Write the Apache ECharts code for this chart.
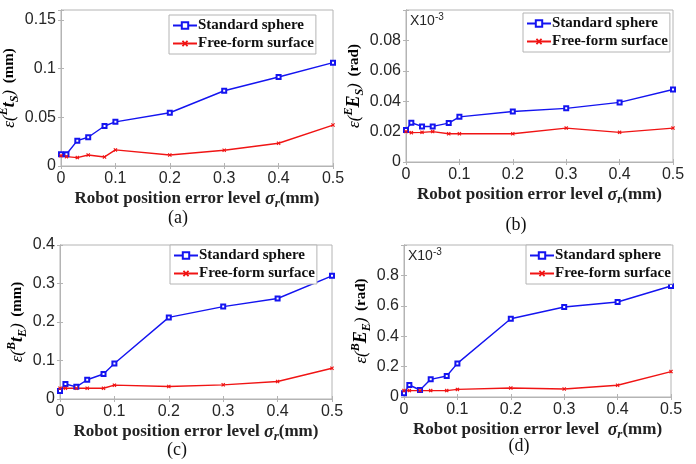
<!DOCTYPE html>
<html><head><meta charset="utf-8">
<script src="https://cdn.jsdelivr.net/npm/echarts@6/dist/echarts.min.js"></script>
<style>html,body{margin:0;padding:0;background:#fff}#c{width:696px;height:464px}</style>
</head><body><div id="c"></div>
<script>
// ---- data ----
const xValues = [0, 0.01, 0.03, 0.05, 0.08, 0.1, 0.2, 0.3, 0.4, 0.5];
const seriesNames = ['Standard sphere', 'Free-form surface'];
const panelLetters = ['(a)', '(b)', '(c)', '(d)'];
const aSphere = [0.012, 0.012, 0.026, 0.0295, 0.041, 0.0453, 0.0546, 0.0772, 0.0913, 0.106];
const aFree   = [0.0106, 0.0096, 0.0086, 0.0113, 0.0093, 0.0165, 0.0113, 0.0161, 0.0233, 0.042];
const bSphere = [0.021, 0.0258, 0.0234, 0.0234, 0.0256, 0.0297, 0.0332, 0.0353, 0.0392, 0.0477];
const bFree   = [0.020, 0.0193, 0.0195, 0.0200, 0.0186, 0.0186, 0.0186, 0.0223, 0.0195, 0.0223];
const cSphere = [0.021, 0.039, 0.0315, 0.050, 0.065, 0.092, 0.212, 0.240, 0.261, 0.320];
const cFree   = [0.028, 0.028, 0.028, 0.028, 0.028, 0.036, 0.0324, 0.0368, 0.0455, 0.080];
const dSphere = [0.024, 0.079, 0.046, 0.116, 0.138, 0.221, 0.515, 0.592, 0.625, 0.730];
const dFree   = [0.042, 0.042, 0.042, 0.042, 0.042, 0.050, 0.059, 0.053, 0.077, 0.167];
// y-axis ranges: [min, max, interval, last labelled tick]
const yRanges = [[0, 0.16, 0.05, 0.15], [0, 0.1, 0.02, 0.08], [0, 0.4, 0.1, 0.4], [0, 1.0, 0.2, 0.8]];
const yNames = [
  '{e|ε(}{sup|E}{t|t}{sub|S}{e|)}  {u|(mm)}',
  '{e|ε(}{sup|E}{t|E}{sub|S}{e|)}  {u|(rad)}',
  '{e|ε(}{sup|B}{t|t}{sub|E}{e|)}  {u|(mm)}',
  '{e|ε(}{sup|B}{t|E}{sub|E}{e|)}  {u|(rad)}'
];
const xName = '{b|Robot position error level }{s|σ}{r|r}{b|(mm)}';
const xNameD = '{b|Robot position error level  }{s|σ}{r|r}{b|(mm)}';
const exponentLabel = '{m|X10}{p|-3}';

const panels = [[aSphere, aFree], [bSphere, bFree], [cSphere, cFree], [dSphere, dFree]];

// ---- layout ----
const grids = [
  {left: 61, top: 10, width: 272, height: 156},
  {left: 406, top: 10, width: 267, height: 152},
  {left: 60, top: 245, width: 272, height: 154},
  {left: 404, top: 245, width: 267, height: 152}
];
const legendPos = [{left: 169, top: 15}, {left: 523, top: 13}, {left: 170, top: 245}, {left: 526, top: 245}];
const letterPos = [[178, 218], [516, 225], [177, 450], [519, 446]];
const BOX = '#b4b4b4';
const TXT = '#262626';
const serif = '"Liberation Serif","Times New Roman",serif';
const sans = '"Liberation Sans",Arial,sans-serif';

const yRich = {
  e: {fontFamily: serif, fontSize: 17, fontStyle: 'italic', color: '#000', lineHeight: 23},
  t: {fontFamily: serif, fontSize: 18, fontStyle: 'italic', fontWeight: 'bold', color: '#000', lineHeight: 23},
  sup: {fontFamily: serif, fontSize: 12, fontStyle: 'italic', fontWeight: 'bold', color: '#000', verticalAlign: 'top', lineHeight: 12},
  sub: {fontFamily: serif, fontSize: 12, fontStyle: 'italic', fontWeight: 'bold', color: '#000', verticalAlign: 'bottom', lineHeight: 12},
  u: {fontFamily: serif, fontSize: 15, fontWeight: 'bold', color: '#000', lineHeight: 23}
};
const xRich = {
  b: {fontFamily: serif, fontSize: 17, fontWeight: 'bold', color: '#222', lineHeight: 22},
  s: {fontFamily: serif, fontSize: 18, fontStyle: 'italic', fontWeight: 'bold', color: '#222', lineHeight: 22},
  r: {fontFamily: serif, fontSize: 13, fontStyle: 'italic', fontWeight: 'bold', color: '#222', verticalAlign: 'bottom', lineHeight: 12}
};

const crossPath = 'path://M2,0L5,3L8,0L10,2L7,5L10,8L8,10L5,7L2,10L0,8L3,5L0,2Z';

const option = {
  animation: false,
  backgroundColor: '#fff',
  grid: [], xAxis: [], yAxis: [], series: [], legend: [], graphic: []
};

grids.forEach((g, i) => {
  option.grid.push(Object.assign({show: true, borderColor: BOX, borderWidth: 1, backgroundColor: '#fff',
    containLabel: false, outerBoundsMode: 'none'}, g));
  const [ymin, ymax, yint, ylast] = yRanges[i];
  const xi = option.xAxis.length, yi = option.yAxis.length;
  option.xAxis.push({
    type: 'value', gridIndex: i, min: 0, max: 0.5, interval: 0.1, position: 'bottom',
    axisLine: {show: true, lineStyle: {color: BOX}},
    axisTick: {show: true, inside: true, length: 3, lineStyle: {color: BOX}},
    axisLabel: {color: TXT, fontFamily: sans, fontSize: 16, margin: 5,
      formatter: v => String(+v.toFixed(2))},
    splitLine: {show: false},
    name: i === 3 ? xNameD : xName, nameLocation: 'middle', nameGap: 22,
    nameTextStyle: {rich: xRich}
  });
  option.xAxis.push({
    type: 'value', gridIndex: i, min: 0, max: 0.5, interval: 0.1, position: 'top',
    axisLine: {show: true, lineStyle: {color: BOX}},
    axisTick: {show: true, inside: true, length: 3, lineStyle: {color: BOX}},
    axisLabel: {show: false}, splitLine: {show: false}
  });
  option.yAxis.push({
    type: 'value', gridIndex: i, min: ymin, max: ymax, interval: yint, position: 'left',
    axisLine: {show: true, lineStyle: {color: BOX}},
    axisTick: {show: true, inside: true, length: 3, lineStyle: {color: BOX}},
    axisLabel: {color: TXT, fontFamily: sans, fontSize: 16, margin: 5,
      formatter: v => {
        const k = v / yint;
        if (Math.abs(k - Math.round(k)) > 1e-6 || v > ylast + 1e-9) return '';
        return String(+v.toFixed(3));
      }},
    splitLine: {show: false},
    name: yNames[i], nameLocation: 'middle', nameRotate: 90, nameGap: 31,
    nameTextStyle: {rich: yRich}
  });
  option.yAxis.push({
    type: 'value', gridIndex: i, min: ymin, max: ymax, interval: yint, position: 'right',
    axisLine: {show: true, lineStyle: {color: BOX}},
    axisTick: {show: true, inside: true, length: 3, lineStyle: {color: BOX}},
    axisLabel: {show: false}, splitLine: {show: false}
  });
  const [sph, fre] = panels[i];
  option.series.push({
    type: 'line', name: seriesNames[0], xAxisIndex: xi, yAxisIndex: yi,
    data: xValues.map((x, k) => [x, sph[k]]),
    symbol: 'emptyRect', symbolSize: 4, showAllSymbol: true,
    lineStyle: {color: '#1414f0', width: 1.4}, itemStyle: {color: '#1414f0', borderWidth: 1}
  });
  option.series.push({
    type: 'line', name: seriesNames[1], xAxisIndex: xi, yAxisIndex: yi,
    data: xValues.map((x, k) => [x, fre[k]]),
    symbol: crossPath, symbolSize: 4, showAllSymbol: true,
    lineStyle: {color: '#f01414', width: 1.4}, itemStyle: {color: '#f01414'}
  });
  option.legend.push(Object.assign({
    orient: 'vertical', data: seriesNames, selectedMode: false,
    backgroundColor: '#fff', borderColor: BOX, borderWidth: 1, borderRadius: 0,
    padding: [3, 2, 3, 3], itemGap: 3, itemWidth: 24, itemHeight: 8,
    textStyle: {fontFamily: serif, fontWeight: 'bold', fontSize: 15, color: '#111', padding: [0, 0, 0, -4]}
  }, legendPos[i]));
  option.graphic.push({
    type: 'text', x: letterPos[i][0], y: letterPos[i][1],
    style: {text: panelLetters[i], font: '18px ' + serif, fill: '#111', textAlign: 'center', textVerticalAlign: 'middle'}
  });
});
// exponent labels for (b) and (d)
[[410, 12], [408, 247]].forEach(p => {
  option.graphic.push({
    type: 'text', x: p[0], y: p[1],
    style: {text: exponentLabel, rich: {
      m: {fontFamily: sans, fontSize: 14, fill: TXT, lineHeight: 18},
      p: {fontFamily: sans, fontSize: 10, fill: TXT, verticalAlign: 'top', lineHeight: 10}
    }}
  });
});

const chart = echarts.init(document.getElementById('c'), null, {renderer: 'canvas'});
chart.setOption(option);
</script></body></html>
